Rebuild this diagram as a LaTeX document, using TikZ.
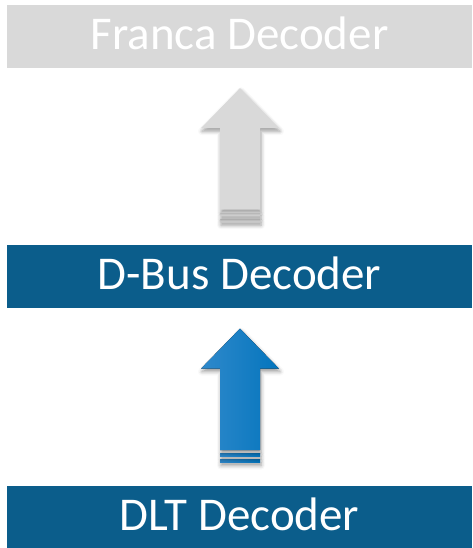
\documentclass[tikz,border=0pt]{standalone}
\usepackage{fontspec}
\setmainfont{Carlito}
\usetikzlibrary{positioning, calc, shadows.blur}

\definecolor{boxgrey}{HTML}{D9D9D9}
\definecolor{boxblue}{HTML}{0B5D8B}
\definecolor{arrowlight}{HTML}{2F89CB}
\definecolor{arrowdark}{HTML}{0475BD}

\tikzset{
  layer/.style={minimum width=465pt, minimum height=63pt, inner sep=0pt,
    text=white, font=\fontsize{47}{56}\selectfont, text height=30pt, text depth=4pt},
  arrowshadow/.style={blur shadow={shadow xshift=1pt, shadow yshift=-3pt,
    shadow blur radius=4pt, shadow opacity=40}},
  greyarrow/.style={fill=boxgrey, arrowshadow},
  bluearrow/.style={left color=arrowlight, right color=arrowdark, arrowshadow},
}

\begin{document}
\begin{tikzpicture}[x=1pt, y=1pt]
\useasboundingbox (0,0) rectangle (472,548);
\node[layer, fill=boxgrey] (franca) at (239.5,511.5) {Franca Decoder};
\node[layer, fill=boxblue, below=177pt of franca] (dbus) {D-Bus Decoder};
\node[layer, fill=boxblue, below=177pt of dbus] (dlt) {DLT Decoder};

% block arrows from lower layer up to upper layer, stripes at the foot
\foreach \lo/\hi/\look in {dbus/franca/greyarrow, dlt/dbus/bluearrow} {
  \coordinate (foot) at ($(\lo.north)+(0.5,23)$);
  \coordinate (tip) at ($(\hi.south)+(0.5,-20)$);
  \fill[\look] ($(foot)+(-20,0)$) rectangle ($(foot)+(20,3)$);
  \fill[\look] ($(foot)+(-20,6)$) rectangle ($(foot)+(20,9.5)$);
  \fill[\look] ($(foot)+(-20,12.5)$) -- ($(tip)+(-20,-40)$) -- ($(tip)+(-39,-40)$)
    -- (tip) -- ($(tip)+(39,-40)$) -- ($(tip)+(20,-40)$) -- ($(foot)+(20,12.5)$) -- cycle;
}
\end{tikzpicture}
\end{document}
